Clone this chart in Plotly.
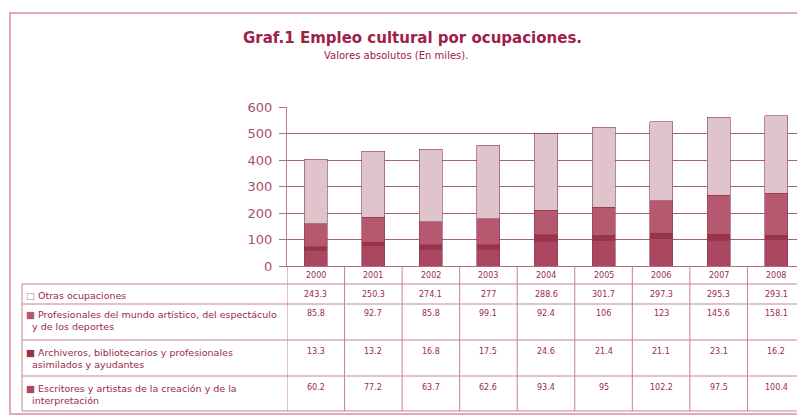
import plotly.graph_objects as go

years = ['2000', '2001', '2002', '2003', '2004', '2005', '2006', '2007', '2008']
escritores = [60.2, 77.2, 63.7, 62.6, 93.4, 95, 102.2, 97.5, 100.4]
archiveros = [13.3, 13.2, 16.8, 17.5, 24.6, 21.4, 21.1, 23.1, 16.2]
profesionales = [85.8, 92.7, 85.8, 99.1, 92.4, 106, 123, 145.6, 158.1]
otras = [243.3, 250.3, 274.1, 277, 288.6, 301.7, 297.3, 295.3, 293.1]

series_names = [
    'Escritores y artistas de la creación y de la<br>interpretación',
    'Archiveros, bibliotecarios y profesionales<br>asimilados y ayudantes',
    'Profesionales del mundo artístico, del espectáculo<br>y de los deportes',
    'Otras ocupaciones',
]
series_values = [escritores, archiveros, profesionales, otras]
series_colors = ['#ab4760', '#9a3249', '#b55870', '#dfc5cb']
key_symbols = ['■', '■', '■', '□']

OFF = 8  # default page body margin
W, H = 805 - OFF, 418 - OFF
L, T, B = 287, 107, 266  # plot area pixel edges in the screenshot
PH = B - T
PW = 805 - L

def py(p):
    return (B - p) / PH

def px(p):
    return (p - L) / PW

fig = go.Figure()
for name, vals, col in zip(series_names, series_values, series_colors):
    fig.add_trace(go.Bar(
        x=years, y=vals, name=name, marker_color=col,
        marker_line=dict(color='#8a3a4c', width=0.6), width=0.4,
    ))

font = 'DejaVu Sans'
text_col = '#9a2a48'
line_col = '#c48396'
ann = []
shapes = []

# Title
ann.append(dict(text='<b>Graf.1 Empleo cultural por ocupaciones.</b>', x=px(412), y=py(38),
                xref='paper', yref='paper', xanchor='center', yanchor='middle', showarrow=False,
                font=dict(family=font, size=15, color='#9e2148')))
ann.append(dict(text='Valores absolutos (En miles).', x=px(396), y=py(55),
                xref='paper', yref='paper', xanchor='center', yanchor='middle', showarrow=False,
                font=dict(family=font, size=10, color='#9e2148')))

# Table rows (pixel y of row separators)
row_lines = [284, 304, 340, 376, 411]
value_y = [294, 313, 351, 387]          # top-line text y per row (Otras, Prof, Arch, Escr)
row_series = [3, 2, 1, 0]

# Year header
for i, yr in enumerate(years):
    ann.append(dict(text=yr, x=i, y=py(275), xref='x', yref='paper', showarrow=False,
                    xanchor='center', yanchor='middle',
                    font=dict(family=font, size=8, color=text_col)))

for r, si in enumerate(row_series):
    for i, v in enumerate(series_values[si]):
        ann.append(dict(text=f'{v:g}', x=i, y=py(value_y[r]), xref='x', yref='paper',
                        showarrow=False, xanchor='center', yanchor='middle',
                        font=dict(family=font, size=8, color=text_col)))
    key_col = series_colors[si] if si != 3 else '#c48396'
    ann.append(dict(text=f'<span style="color:{key_col}">{key_symbols[si]}</span> {series_names[si].replace("<br>", "<br>  ")}',
                    x=px(24), y=py(value_y[r] - 6), xref='paper', yref='paper',
                    xanchor='left', yanchor='top', align='left', showarrow=False,
                    font=dict(family=font, size=9.5, color=text_col)))

# Horizontal table lines
for ly in row_lines:
    shapes.append(dict(type='line', xref='paper', yref='paper', x0=px(22), x1=1.0,
                       y0=py(ly), y1=py(ly), line=dict(color=line_col, width=1)))
# Vertical table lines at category boundaries
for i in range(len(years) + 1):
    shapes.append(dict(type='line', xref='x', yref='paper', x0=i - 0.5, x1=i - 0.5,
                       y0=0, y1=py(row_lines[-1]), line=dict(color=line_col, width=1)))
# Left edge of label column
shapes.append(dict(type='line', xref='paper', yref='paper', x0=px(22), x1=px(22),
                   y0=py(row_lines[0]), y1=py(row_lines[-1]), line=dict(color=line_col, width=1)))
# Outer frame
shapes.append(dict(type='rect', xref='paper', yref='paper', x0=px(10), x1=1.05,
                   y0=py(414), y1=py(13), line=dict(color='#e2a9b8', width=2)))

fig.update_layout(
    width=W, height=H,
    margin=dict(l=L - OFF, r=0, t=T - OFF, b=H - (B - OFF), pad=0),
    barmode='stack',
    showlegend=False,
    paper_bgcolor='white', plot_bgcolor='white',
    annotations=ann, shapes=shapes,
    xaxis=dict(type='category', range=[-0.5, 8.5], showticklabels=False, showgrid=False,
               showline=True, linecolor='#b46a80', ticks=''),
    yaxis=dict(range=[0, 600], tickvals=[0, 100, 200, 300, 400, 500, 600],
               showgrid=True, gridcolor='#a06474', gridwidth=1,
               showline=True, linecolor='#c07a8e', ticks='outside', ticklen=7,
               tickcolor='#b07080', zeroline=False, ticklabelstandoff=4,
               tickfont=dict(family=font, size=13, color='#a8506c')),
)

fig.write_html('out.html')
